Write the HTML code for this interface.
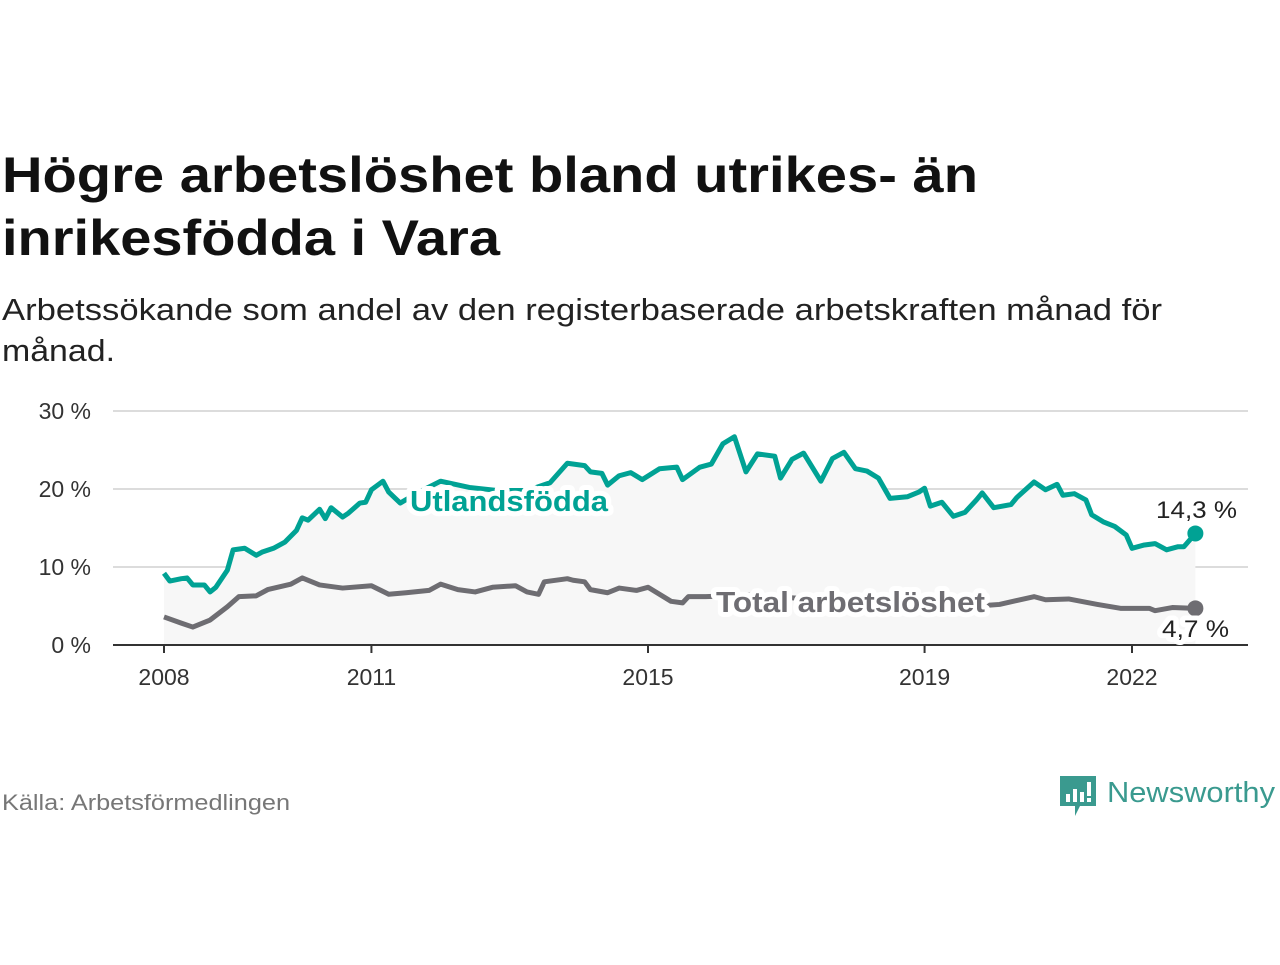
<!DOCTYPE html>
<html><head><meta charset="utf-8"><style>
body{margin:0;background:#fff;width:1280px;height:960px;overflow:hidden;font-family:"Liberation Sans",sans-serif;}
</style></head><body>
<svg width="1280" height="960" font-family="Liberation Sans, sans-serif">
<text x="2" y="192" font-size="50" font-weight="bold" fill="#111" textLength="976" lengthAdjust="spacingAndGlyphs">Högre arbetslöshet bland utrikes- än</text>
<text x="2" y="255" font-size="50" font-weight="bold" fill="#111" textLength="498" lengthAdjust="spacingAndGlyphs">inrikesfödda i Vara</text>
<text x="2" y="320" font-size="31" fill="#222" textLength="1160" lengthAdjust="spacingAndGlyphs">Arbetssökande som andel av den registerbaserade arbetskraften månad för</text>
<text x="2" y="361" font-size="31" fill="#222" textLength="113" lengthAdjust="spacingAndGlyphs">månad.</text>
<g id="plot"></g>
<text x="2" y="810" font-size="22" fill="#777" textLength="288" lengthAdjust="spacingAndGlyphs">Källa: Arbetsförmedlingen</text>
<g>
<path d="M1060 776 h36 v30 h-16 l-5 10 v-10 h-15 z" fill="#3a9a8f"/>
<rect x="1066" y="794" width="4" height="8" fill="#fff"/><rect x="1073" y="789" width="4" height="13" fill="#fff"/><rect x="1080" y="792" width="4" height="10" fill="#fff"/><rect x="1087" y="782" width="4" height="14" fill="#fff"/><rect x="1087" y="798" width="4" height="4" fill="#fff"/>
<text x="1107" y="802" font-size="29" fill="#3a9a8f" textLength="168" lengthAdjust="spacingAndGlyphs">Newsworthy</text>
</g>
</svg>
<script>
const yTicks=[0,10,20,30];
const yTickLabels=["0 %","10 %","20 %","30 %"];
const xTicks=[0,36,84,132,168];
const xTickLabels=["2008","2011","2015","2019","2022"];
const foreignMonths=[0,1,3,4,5,7,8,9,11,12,14,16,17,19,21,23,24,25,27,28,29,31,32,34,35,36,38,39,41,44,48,53,58,63,67,70,73,74,76,77,79,81,83,86,89,90,93,95,97,99,101,103,106,107,109,111,114,116,118,120,122,124,126,129,131,132,133,135,137,139,141,142,144,147,148,151,153,155,156,158,160,161,163,165,167,168,170,172,174,176,177,179];
const foreignValues=[9.2,8.2,8.5,8.6,7.7,7.7,6.8,7.4,9.6,12.2,12.4,11.5,11.9,12.4,13.2,14.7,16.3,16.0,17.4,16.2,17.6,16.4,16.9,18.2,18.3,19.9,21.0,19.6,18.2,19.5,21.0,20.2,19.8,19.8,20.8,23.3,23.0,22.2,22.0,20.5,21.7,22.1,21.2,22.6,22.8,21.2,22.8,23.2,25.8,26.7,22.2,24.5,24.2,21.4,23.8,24.6,21.0,23.9,24.7,22.6,22.3,21.4,18.8,19.0,19.6,20.1,17.8,18.3,16.5,17.0,18.6,19.5,17.6,18.0,18.9,20.9,19.9,20.6,19.2,19.4,18.6,16.7,15.8,15.2,14.1,12.4,12.8,13.0,12.2,12.6,12.6,14.3];
const totalMonths=[0,3,5,8,11,13,16,18,22,24,27,31,36,39,42,46,48,51,54,57,61,63,65,66,70,71,73,74,77,79,82,84,88,90,91,94,102,110,119,128,136,143,145,151,153,157,162,166,171,172,175,179];
const totalValues=[3.6,2.8,2.3,3.2,4.9,6.2,6.3,7.1,7.8,8.6,7.7,7.3,7.6,6.5,6.7,7.0,7.8,7.1,6.8,7.4,7.6,6.8,6.5,8.1,8.5,8.3,8.1,7.1,6.7,7.3,7.0,7.4,5.6,5.4,6.2,6.2,6.4,6.0,5.8,5.5,5.3,5.1,5.2,6.2,5.8,5.9,5.2,4.7,4.7,4.4,4.8,4.7];
const endLabels=["14,3 %","4,7 %"];

const NS="http://www.w3.org/2000/svg";
const g=document.getElementById('plot');
const X=m=>164+m*(1132-164)/168;
const Y=v=>645-v*7.8;
function mk(t,a,p){const e=document.createElementNS(NS,t);for(const k in a)e.setAttribute(k,a[k]);(p||g).appendChild(e);return e;}
yTicks.forEach((v,i)=>{
  if(v>0){const l=mk('line',{x1:113,x2:1248,y1:Y(v),y2:Y(v),stroke:'#dcdcdc','stroke-width':2});
  
  }
  const t=mk('text',{x:91,y:Y(v)+8,'font-size':23,fill:'#333','text-anchor':'end'});t.textContent=yTickLabels[i];
  
  
});
let ad='M'+X(foreignMonths[0])+' '+Y(0);
foreignMonths.forEach((m,i)=>ad+=' L'+X(m)+' '+Y(foreignValues[i]));
ad+=' L'+X(foreignMonths[foreignMonths.length-1])+' '+Y(0)+'Z';
const area=mk('path',{d:ad,fill:'#f7f7f7'});


const ax=mk('line',{x1:113,x2:1248,y1:645,y2:645,stroke:'#333','stroke-width':2});


xTicks.forEach((m,i)=>{
  mk('line',{x1:X(m),x2:X(m),y1:645,y2:653,stroke:'#333','stroke-width':2});
  const t=mk('text',{x:X(m),y:685,'font-size':23,fill:'#333','text-anchor':'middle'});t.textContent=xTickLabels[i];
  
  
});
function line(ms,vs,color,name){
  let d='';ms.forEach((m,i)=>d+=(i?' L':'M')+X(m)+' '+Y(vs[i]));
  const p=mk('path',{d:d,fill:'none',stroke:color,'stroke-width':5,'stroke-linejoin':'round'});
  
  
  const c=mk('circle',{cx:X(ms[ms.length-1]),cy:Y(vs[vs.length-1]),r:8,fill:color});
  
  
}
line(totalMonths,totalValues,'#6e6d72','total-line');
line(foreignMonths,foreignValues,'#00a294','foreign-born-line');
function lbl(x,y,txt,color,name,bold,size,len){
  const a={x:x,y:y,'font-size':size,fill:color};if(bold)a['font-weight']='bold';
  if(len){a.textLength=len;a.lengthAdjust='spacingAndGlyphs';}
  const h=mk('text',Object.assign({},a,{stroke:'#fff','stroke-width':10,'stroke-linejoin':'round'}));h.textContent=txt;
  const t=mk('text',a);t.textContent=txt;
  
  
}
lbl(410,511,'Utlandsfödda','#00a294','series-label-foreign',true,29,198);
lbl(716,612,'Total arbetslöshet','#6e6d72','series-label-total',true,29,269);
lbl(1156,518,endLabels[0],'#222','end-label-foreign',false,24,81);
lbl(1162,637,endLabels[1],'#222','end-label-total',false,24,67);
</script>
</body></html>
